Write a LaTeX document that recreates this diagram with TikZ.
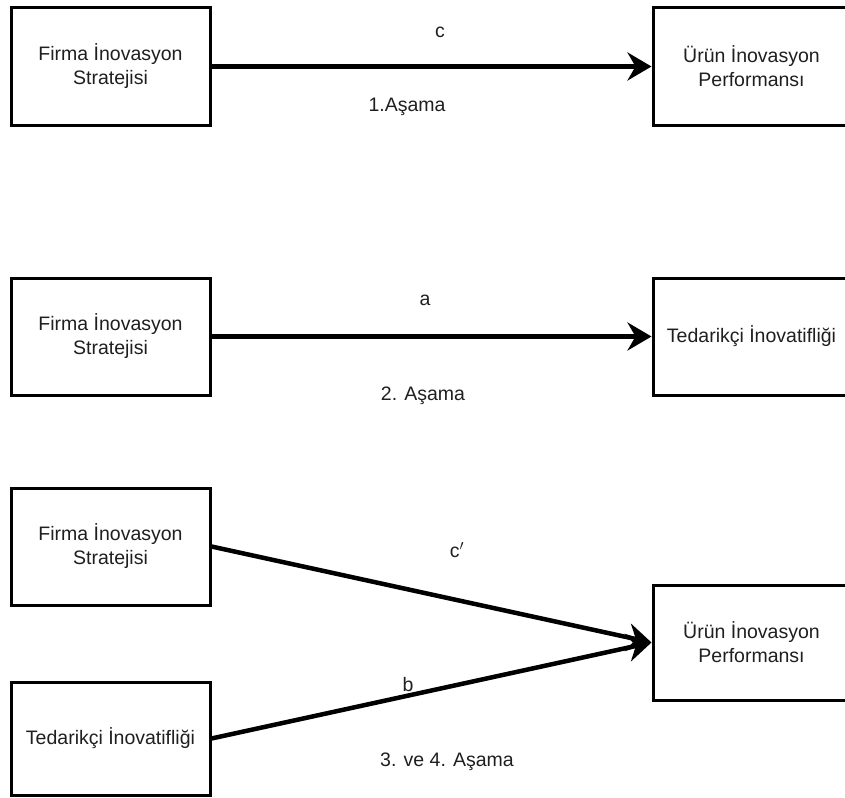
\documentclass[tikz,border=0pt]{standalone}
\usepackage{fontspec}
\setmainfont{Liberation Sans}
\usetikzlibrary{arrows.meta}
\begin{document}
\begin{tikzpicture}[x=1pt,y=-1pt,
  box/.style={draw=black,line width=3pt,fill=white,align=center,inner sep=0pt,
    font=\fontsize{19.5}{24}\selectfont,text=black!88},
  lbl/.style={font=\fontsize{19.5}{24}\selectfont,text=black!88,inner sep=0pt},
  conn/.style={line width=4.5pt,-{Stealth[length=24pt,width=28pt,inset=8pt]}}]
\useasboundingbox (0,0) rectangle (845,797);
% Row 1
\node[box,minimum width=199pt,minimum height=117pt] (L1) at (110.5,66.5) {Firma İnovasyon\\Stratejisi};
\node[box,minimum width=197pt,minimum height=117pt] (R1) at (751.5,66.5) {Ürün İnovasyon\\Performansı};
\draw[conn] (L1.east) -- (R1.west);
\node[lbl] (c) at (440,32) {c};
\node[lbl] (s1) at (407,107) {1.Aşama};
% Row 2
\node[box,minimum width=199pt,minimum height=117pt] (L2) at (110.5,336.5) {Firma İnovasyon\\Stratejisi};
\node[box,minimum width=197pt,minimum height=117pt] (R2) at (751.5,336.5) {Tedarikçi İnovatifliği};
\draw[conn] (L2.east) -- (R2.west);
\node[lbl] (a) at (425,300) {a};
\node[lbl] (s2) at (423,396) {2. Aşama};
% Row 3
\node[box,minimum width=199pt,minimum height=117pt] (L3) at (110.5,546.5) {Firma İnovasyon\\Stratejisi};
\node[box,minimum width=199pt,minimum height=113pt] (L4) at (110.5,738.5) {Tedarikçi İnovatifliği};
\node[box,minimum width=197pt,minimum height=115pt] (R3) at (751.5,642.5) {Ürün İnovasyon\\Performansı};
\draw[conn] (L3.east) -- (R3.west);
\draw[conn] (L4.east) -- (R3.west);
\node[lbl] (cp) at (457,550) {c$'$};
\node[lbl] (b) at (408,685) {b};
\node[lbl] (s3) at (447,762) {3. ve 4. Aşama};
\end{tikzpicture}
\end{document}
